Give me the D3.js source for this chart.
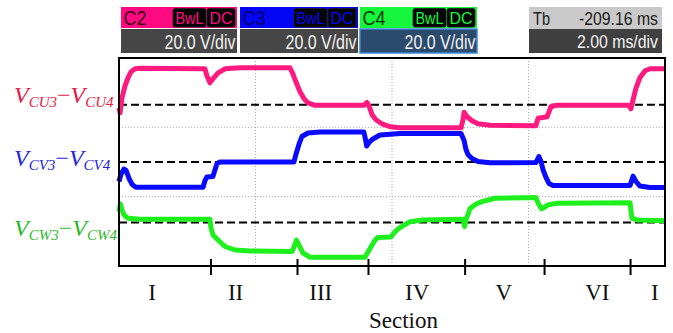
<!DOCTYPE html>
<html>
<head>
<meta charset="utf-8">
<script src="https://cdn.jsdelivr.net/npm/d3@7"></script>
<style>
  body { margin: 0; background: #fff; }
  svg { display: block; }
</style>
</head>
<body>
<svg id="chart" width="673" height="333"></svg>
<script>
// ---- time base: 2 ms/div, 10 divisions ----
const timeDomain = [0, 20];

// section boundaries (ms) and the section names drawn under the axis
const sectionBounds   = [3.35, 6.52, 9.12, 12.66, 15.57, 18.72];
const sectionLabels   = ["I", "II", "III", "IV", "V", "VI", "I"];
const sectionLabelPos = [1.21, 4.27, 7.39, 10.92, 14.10, 17.52, 19.63];

// channel settings shown in the header
const channelNames  = ["C2", "C3", "C4"];
const channelScales = ["20.0 V/div", "20.0 V/div", "20.0 V/div"];
const timebaseDelay = "-209.16 ms";
const timebaseScale = "2.00 ms/div";

// V_CU3 - V_CU4 (volts, relative to its reference level)
const cuTime = [0, 0.04, 0.11, 0.22, 0.33, 0.44, 0.59, 0.77, 3.15, 3.22, 3.33, 3.44, 3.63, 3.88, 4.43,
  6.26, 6.37, 6.48, 6.63, 6.78, 6.92, 7.18, 8.97, 9.08, 9.16, 9.27, 9.41, 9.63, 9.93, 10.29,
  12.53, 12.60, 12.64, 12.75, 12.93, 13.15, 13.59, 15.27, 15.31, 15.35, 15.68, 15.75, 15.82, 16.01,
  18.68, 18.75, 18.83, 18.94, 19.08, 19.27, 19.45, 20];
const cuVolt = [-2.3, -6.2, 5.4, 14.6, 20.8, 25.4, 27.7, 28.1, 27.7, 22.3, 16.9, 20.0, 24.6, 27.7, 28.5,
  28.5, 23.8, 17.7, 10.0, 4.6, 1.5, -0.4, -0.4, 1.8, -0.8, -7.7, -11.5, -14.6, -16.9, -17.7,
  -17.7, -11.5, -5.8, -9.2, -12.3, -14.6, -15.8, -16.2, -13.1, -10.4, -9.2, -5.4, -1.5, -0.4,
  -0.4, -3.1, 3.8, 13.1, 20.8, 26.2, 27.7, 27.7];

// V_CV3 - V_CV4
const cvTime = [0, 0.07, 0.18, 0.26, 0.37, 0.48, 0.62, 3.08, 3.15, 3.22, 3.44, 3.52, 3.59, 3.70,
  6.41, 6.48, 6.59, 6.70, 6.92, 7.36, 8.97, 9.03, 9.07, 9.16, 9.27, 9.56, 10.29,
  12.53, 12.64, 12.71, 12.78, 12.93, 13.15, 13.59, 15.27, 15.38, 15.46, 15.53, 15.64, 15.75, 15.90,
  18.72, 18.79, 18.83, 18.94, 19.08, 19.45, 20];
const cvVolt = [-15.0, -9.6, -5.4, -6.5, -12.7, -17.3, -19.4, -19.4, -14.2, -11.5, -11.2, -5.8, -1.2, 0,
  0, 5.8, 13.5, 19.6, 22.3, 23.1, 23.1, 17.3, 12.3, 15.0, 17.3, 20.8, 21.9,
  21.9, 16.5, 9.6, 5.8, 2.7, 0.4, -0.6, -0.4, 4.2, 0.4, -5.8, -11.9, -16.5, -18.1,
  -18.1, -13.5, -10.9, -15.0, -18.5, -19.6, -19.6];

// V_CW3 - V_CW4
const cwTime = [0, 0.05, 0.11, 0.18, 0.33, 0.77, 3.33, 3.37, 3.44, 3.63, 3.88, 4.25, 4.80,
  6.34, 6.41, 6.50, 6.59, 6.74, 7.00, 9.01, 9.12, 9.27, 9.38, 9.49, 9.96, 10.07, 10.22, 10.37, 10.66, 11.10,
  12.60, 12.66, 12.71, 12.86, 13.08, 13.30, 13.77, 15.27, 15.35, 15.48, 15.60, 15.71, 16.04,
  18.72, 18.75, 18.79, 18.97, 20];
const cwVolt = [8.1, 14.2, 9.6, 5.8, 3.2, 2.5, 2.5, -4.2, -9.6, -13.5, -18.5, -21.2, -21.9,
  -22.3, -18.8, -13.5, -17.3, -23.5, -26.8, -26.8, -22.7, -17.3, -13.5, -11.5, -11.2, -8.1, -5.0, -3.1, 0.6, 1.9,
  2.5, -3.1, 1.9, 10.8, 14.2, 16.0, 18.6, 19.1, 15.0, 10.4, 11.9, 13.5, 14.8,
  15.2, 9.6, 3.2, 1.9, 1.4];

const seriesSubs = [["CU3", "CU4"], ["CV3", "CV4"], ["CW3", "CW4"]];

// ---- layout ----
const svg = d3.select("#chart");
const plot = { left: 119, top: 58, right: 665, bottom: 266 };

const x = d3.scaleLinear().domain(timeDomain).range([plot.left, plot.right]);
// screen voltage: 8 divisions of 20 V
const y = d3.scaleLinear().domain([-80, 80]).range([plot.bottom, plot.top]);

const traceColors = ["#ff1a80", "#0a0aff", "#1ef01e"];
const labelColors = ["#e51a45", "#2626dc", "#2fb82f"];
const offsets = [44, 0, -46.5];
const series = [
  { t: cuTime, v: cuVolt },
  { t: cvTime, v: cvVolt },
  { t: cwTime, v: cwVolt }
];

// ---- header boxes ----
const headerFill = ["#ff0a80", "#0505f5", "#14f53c"];
const headerText = ["#3a0018", "#000070", "#003300"];
const boxX = [121, 240, 360];
const boxW = [116, 118, 117];
const head = svg.append("g").attr("font-family", "'Liberation Sans', Arial, sans-serif");

channelNames.forEach((name, i) => {
  const g = head.append("g");
  g.append("rect").attr("x", boxX[i]).attr("y", 7).attr("width", boxW[i]).attr("height", 21)
    .attr("fill", headerFill[i]);
  g.append("rect").attr("x", boxX[i]).attr("y", 29).attr("width", boxW[i]).attr("height", 24)
    .attr("fill", i === 2 ? "#2b4a6c" : "#464646")
    .attr("stroke", i === 2 ? "#3a86d8" : "none").attr("stroke-width", 1.5);
  g.append("text").attr("x", boxX[i] + 2.5).attr("y", 25).attr("font-size", 20)
    .attr("textLength", 23).attr("lengthAdjust", "spacingAndGlyphs")
    .attr("fill", headerText[i]).text(name);
  const right = boxX[i] + boxW[i];
  [["BwL", right - 64, 33], ["DC", right - 30, 28]].forEach(([txt, bx, bw]) => {
    g.append("rect").attr("x", bx).attr("y", 8.5).attr("width", bw).attr("height", 18.5)
      .attr("rx", 2).attr("fill", "#050505").attr("stroke", "#222").attr("stroke-width", 0.8);
    g.append("text").attr("x", bx + bw / 2).attr("y", 24).attr("text-anchor", "middle")
      .attr("font-size", 17).attr("textLength", bw - 5).attr("lengthAdjust", "spacingAndGlyphs")
      .attr("fill", headerFill[i]).text(txt);
  });
  g.append("text").attr("x", right - 1.5).attr("y", 48.5).attr("text-anchor", "end")
    .attr("font-size", 20).attr("textLength", 71).attr("lengthAdjust", "spacingAndGlyphs")
    .attr("fill", "#f2f2f2").text(channelScales[i]);
});

// timebase box
const tbX = 529, tbW = 133;
const tb = head.append("g");
tb.append("rect").attr("x", tbX).attr("y", 7).attr("width", tbW).attr("height", 22).attr("fill", "#c9c9c9");
tb.append("rect").attr("x", tbX).attr("y", 29).attr("width", tbW).attr("height", 24).attr("fill", "#404040");
tb.append("text").attr("x", tbX + 4).attr("y", 25).attr("font-size", 18)
  .attr("textLength", 17).attr("lengthAdjust", "spacingAndGlyphs").attr("fill", "#1a1a1a").text("Tb");
tb.append("text").attr("x", tbX + tbW - 4).attr("y", 25).attr("text-anchor", "end").attr("font-size", 18)
  .attr("textLength", 79).attr("lengthAdjust", "spacingAndGlyphs").attr("fill", "#1a1a1a").text(timebaseDelay);
tb.append("text").attr("x", tbX + tbW - 4).attr("y", 48).attr("text-anchor", "end").attr("font-size", 19)
  .attr("textLength", 81).attr("lengthAdjust", "spacingAndGlyphs").attr("fill", "#f2f2f2").text(timebaseScale);

// ---- graticule ----
const grid = svg.append("g").attr("stroke", "#a8a8a8").attr("stroke-width", 1).attr("stroke-dasharray", "1,2");
[1, 2, 3].forEach(k => {
  const gx = plot.left + (plot.right - plot.left) * k / 4;
  grid.append("line").attr("x1", gx).attr("x2", gx).attr("y1", plot.top).attr("y2", plot.bottom);
});
[1, 2].forEach(k => {
  const gy = plot.top + (plot.bottom - plot.top) * k / 3;
  grid.append("line").attr("x1", plot.left).attr("x2", plot.right).attr("y1", gy).attr("y2", gy);
});

// reference levels of each channel
svg.append("g").selectAll("line").data(offsets).join("line")
  .attr("x1", plot.left).attr("x2", plot.right)
  .attr("y1", d => y(d)).attr("y2", d => y(d))
  .attr("stroke", "#000").attr("stroke-width", 2).attr("stroke-dasharray", "8,4");

// ---- traces ----
series.forEach((s, i) => {
  const pts = s.t.map((t, j) => [t, s.v[j]]);
  const line = d3.line().x(d => x(d[0])).y(d => y(d[1] + offsets[i]));
  svg.append("path").attr("d", line(pts)).attr("fill", "none")
    .attr("stroke", traceColors[i]).attr("stroke-width", 5)
    .attr("stroke-linejoin", "round").attr("stroke-linecap", "butt");
});

// ---- frame and section axis ----
svg.append("rect").attr("x", plot.left).attr("y", plot.top)
  .attr("width", plot.right - plot.left).attr("height", plot.bottom - plot.top)
  .attr("fill", "none").attr("stroke", "#000").attr("stroke-width", 2);

const axis = d3.axisBottom(x).tickValues(sectionBounds).tickSize(8).tickFormat("");
const axG = svg.append("g").attr("transform", `translate(0,${plot.bottom})`).call(axis);
axG.select(".domain").remove();
axG.selectAll(".tick line").attr("stroke", "#000").attr("stroke-width", 2).attr("y1", -7).attr("y2", 9);

svg.append("g").selectAll("text").data(sectionLabels).join("text")
  .attr("x", (d, i) => x(sectionLabelPos[i])).attr("y", 300)
  .attr("text-anchor", "middle").attr("font-family", "'Liberation Serif', 'Times New Roman', serif")
  .attr("font-size", 23).attr("fill", "#111").text(d => d);

svg.append("text").attr("x", 403.5).attr("y", 327.5).attr("text-anchor", "middle")
  .attr("font-family", "'Liberation Serif', 'Times New Roman', serif")
  .attr("font-size", 23).attr("fill", "#111").text("Section");

// ---- channel labels ----
const labelBase = [103, 166, 236];
seriesSubs.forEach((subs, i) => {
  const t = svg.append("text").attr("x", 14).attr("y", labelBase[i])
    .attr("font-family", "'Liberation Serif', 'Times New Roman', serif")
    .attr("font-style", "italic").attr("font-size", 24).attr("fill", labelColors[i]);
  t.append("tspan").text("V");
  t.append("tspan").attr("font-size", 15).attr("dy", 4).text(subs[0]);
  t.append("tspan").attr("dy", -4).attr("font-style", "normal").text("\u2212");
  t.append("tspan").text("V");
  t.append("tspan").attr("font-size", 15).attr("dy", 4).text(subs[1]);
});
</script>
</body>
</html>
